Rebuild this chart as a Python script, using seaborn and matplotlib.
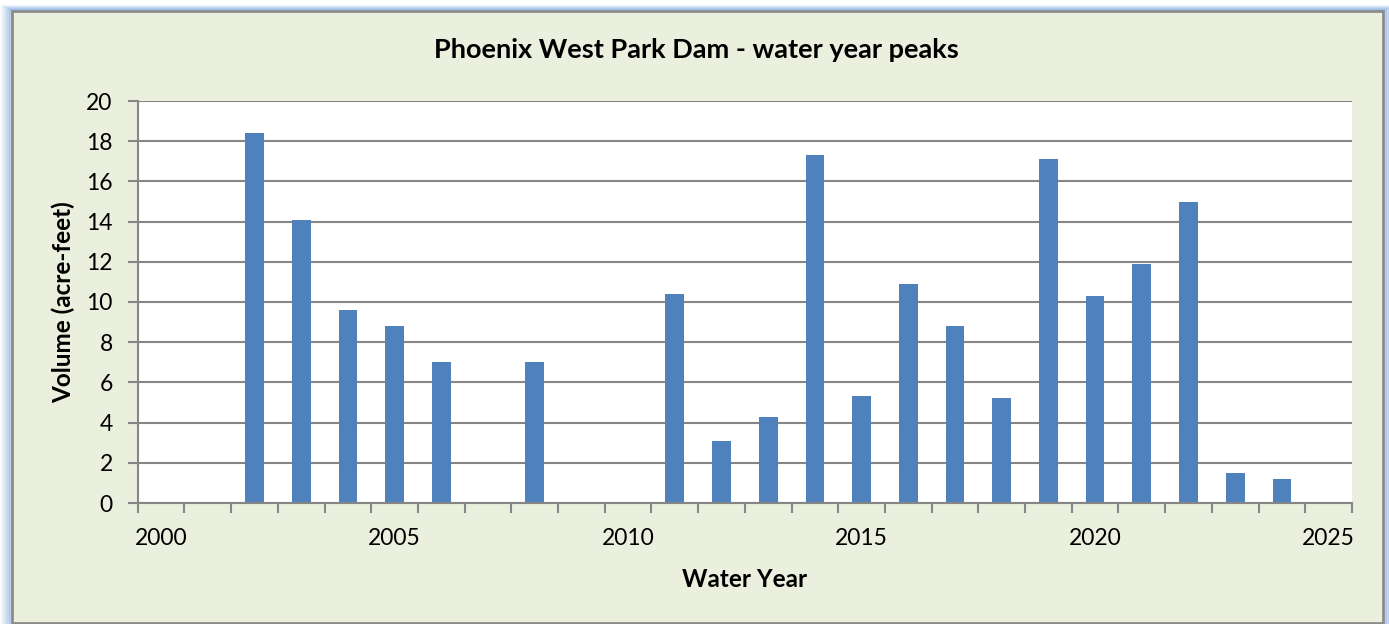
import matplotlib
matplotlib.use("Agg")
import matplotlib.pyplot as plt
import seaborn as sns
from matplotlib.patches import Rectangle

# === data ===
years = list(range(2000, 2026))
peaks = [0, 0, 18.4, 14.1, 9.6, 8.8, 7.0, 0, 7.0, 0, 0, 10.4, 3.1, 4.3,
         17.3, 5.3, 10.9, 8.8, 5.2, 17.1, 10.3, 11.9, 15.0, 1.5, 1.2, 0]
label_years = [2000, 2005, 2010, 2015, 2020, 2025]

sns.set_style("white")
plt.rcParams['font.family'] = ['Lato', 'DejaVu Sans']
plt.rcParams['text.color'] = 'black'
plt.rcParams['axes.labelcolor'] = 'black'

bg = "#EBEFDE"
fig = plt.figure(figsize=(13.89, 6.24), dpi=100)
fig.patch.set_facecolor("white")

# blue glow + gray frame like Excel chart area
W, H = 1389, 624
for i, a in enumerate([0.10, 0.18, 0.28, 0.40, 0.55]):
    pad = 5 - i
    fig.patches.append(Rectangle(((12 - pad * 2) / W, (1 - pad) / H),
                                 (1371 + pad * 4) / W, (612 + pad * 2) / H,
                                 transform=fig.transFigure, facecolor="none",
                                 edgecolor="#8DB4E2", alpha=a, lw=2.5, zorder=-3))
fig.patches.append(Rectangle((12 / W, 1 / H), 1371 / W, 612 / H,
                             transform=fig.transFigure, facecolor=bg,
                             edgecolor="#8C8C8C", lw=2, zorder=-2))

ax = fig.add_axes([137.7 / W, 1 - 503 / H, (1352 - 137.7) / W, (503 - 101) / H])
ax.set_facecolor("white")

sns.barplot(x=years, y=peaks, order=years, color="#4F81BD", width=0.4,
            linewidth=0, saturation=1, ax=ax)

ax.set_xlim(-0.5, len(years) - 0.5)
ax.set_ylim(0, 20)
ax.set_yticks(range(0, 21, 2))
ax.set_xticks([years.index(y) for y in label_years])
ax.set_xticklabels([str(y) for y in label_years])
ax.set_xticks([i - 0.5 for i in range(len(years) + 1)], minor=True)
ax.tick_params(axis="x", which="major", length=0, pad=18, labelsize=16.5, labelcolor="black")
ax.tick_params(axis="x", which="minor", length=7, width=1.5, color="#868686", direction="out")
ax.tick_params(axis="y", length=7, width=1.5, color="#868686", labelsize=16.5, pad=11,
               labelcolor="black")
ax.tick_params(left=True, bottom=True)
ax.xaxis.set_tick_params(which="minor", bottom=True)

ax.grid(axis="y", color="#868686", lw=1.5)
ax.set_axisbelow(True)
for s in ["top", "right"]:
    ax.spines[s].set_visible(False)
for s in ["left", "bottom"]:
    ax.spines[s].set_color("#868686")
    ax.spines[s].set_linewidth(1.5)

# chart title is centred on the whole chart area, not the plot area
fig.suptitle("Phoenix West Park Dam - water year peaks", fontsize=19.5,
             fontweight="bold", x=0.501, y=1 - 50 / H, va="center")
ax.set_xlabel("Water Year", fontsize=17.5, fontweight="bold", labelpad=14)
ax.set_ylabel("Volume (acre-feet)", fontsize=17.5, fontweight="bold", labelpad=8)

plt.savefig("out.png", dpi=100, facecolor=fig.get_facecolor())
